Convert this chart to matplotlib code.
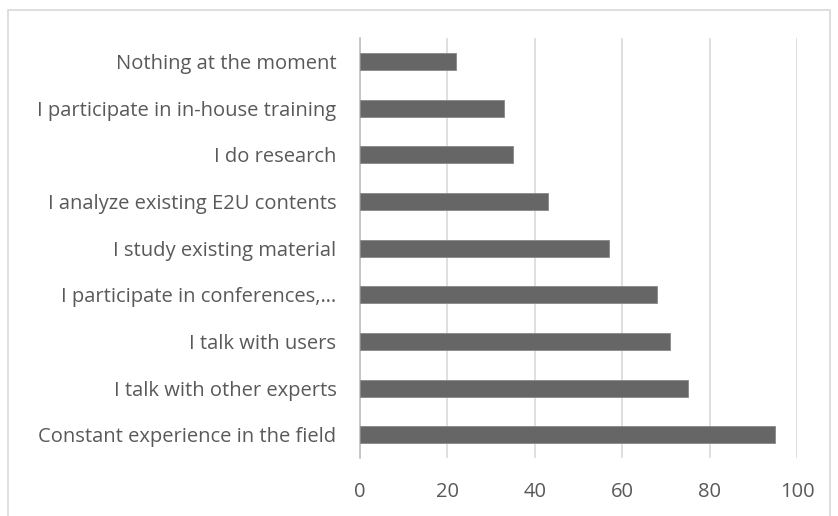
import matplotlib
matplotlib.use('Agg')
import matplotlib.pyplot as plt
from matplotlib.patches import Rectangle

categories = [
    'Constant experience in the field',
    'I talk with other experts',
    'I talk with users',
    'I participate in conferences,\u2026',
    'I study existing material',
    'I analyze existing E2U contents',
    'I do research',
    'I participate in in-house training',
    'Nothing at the moment',
]
values = [95, 75, 71, 68, 57, 43, 35, 33, 22]
xticks = [0, 20, 40, 60, 80, 100]

plt.rcParams['font.family'] = ['Open Sans', 'DejaVu Sans']

fig = plt.figure(figsize=(8.38, 5.16), dpi=100)
ax = fig.add_axes([0.4296, 0.112, 0.5215, 0.814])

ax.barh(range(len(categories)), values, height=0.36, color='#666666',
        edgecolor='#888888', linewidth=0.6, zorder=3)

ax.set_xlim(0, 100)
ax.set_ylim(-0.5, len(categories) - 0.5)
ax.set_xticks(xticks)
ax.set_yticks(range(len(categories)))
ax.set_yticklabels(categories)
ax.tick_params(axis='both', length=0, labelsize=14.5, colors='#595959')
ax.tick_params(axis='x', pad=17)
ax.tick_params(axis='y', pad=17)
ax.grid(axis='x', color='#d9d9d9', linewidth=1.2, zorder=0)
for s in ['top', 'right', 'bottom']:
    ax.spines[s].set_visible(False)
ax.spines['left'].set_color('#bfbfbf')
ax.spines['left'].set_linewidth(1.2)

# outer frame
fig.patches.append(Rectangle((8 / 838, -0.01), 822 / 838, 1 - 10 / 516 + 0.01,
                             transform=fig.transFigure, fill=False,
                             edgecolor='#d9d9d9', linewidth=1.2))

fig.savefig('out.png', dpi=100)
